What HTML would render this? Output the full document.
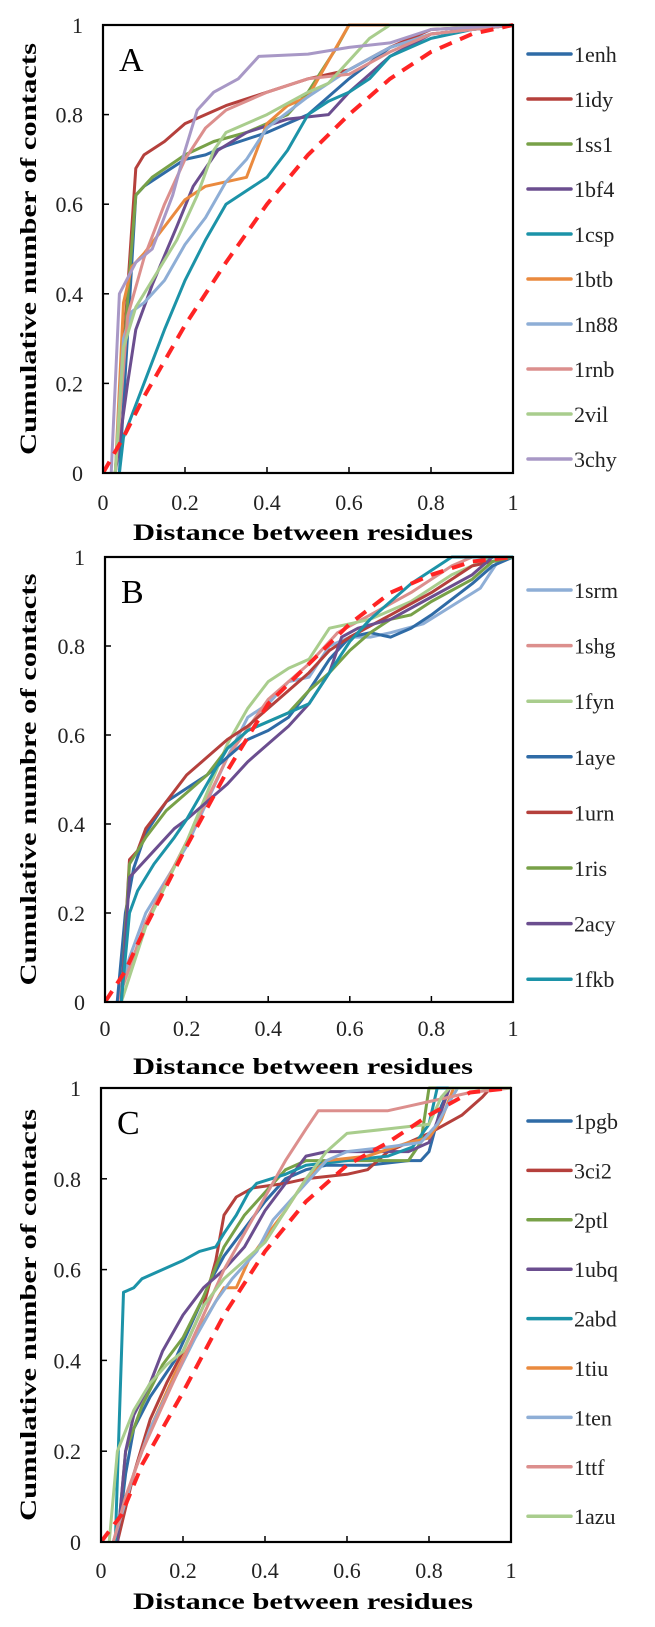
<!DOCTYPE html>
<html><head><meta charset="utf-8"><style>
html,body{margin:0;padding:0;background:#fff;}
svg{display:block;}
</style></head><body>
<svg id="fig" width="655" height="1627" viewBox="0 0 655 1627" xmlns="http://www.w3.org/2000/svg"></svg>
<script>
const xTicks = [0, 0.2, 0.4, 0.6, 0.8, 1];
const yTicks = [0, 0.2, 0.4, 0.6, 0.8, 1];
const tickLabels = ["0", "0.2", "0.4", "0.6", "0.8", "1"];

const namesA = ["1enh","1idy","1ss1","1bf4","1csp","1btb","1n88","1rnb","2vil","3chy"];
const namesB = ["1srm","1shg","1fyn","1aye","1urn","1ris","2acy","1fkb"];
const namesC = ["1pgb","3ci2","2ptl","1ubq","2abd","1tiu","1ten","1ttf","1azu"];

const refA = [[0,0],[0.05,0.08],[0.1,0.17],[0.2,0.33],[0.3,0.47],[0.4,0.6],[0.5,0.71],[0.6,0.8],[0.7,0.88],[0.8,0.94],[0.9,0.98],[1,1]];
const refB = [[0,0],[0.05,0.07],[0.1,0.17],[0.2,0.35],[0.3,0.52],[0.4,0.67],[0.5,0.76],[0.6,0.85],[0.7,0.92],[0.8,0.96],[0.9,0.99],[1,1]];
const refC = [[0,0],[0.05,0.06],[0.1,0.17],[0.2,0.33],[0.3,0.5],[0.4,0.64],[0.5,0.75],[0.6,0.83],[0.7,0.88],[0.8,0.94],[0.9,0.99],[1,1]];

const seriesA = [
 [[0.04,0],[0.08,0.62],[0.1,0.64],[0.15,0.67],[0.2,0.7],[0.25,0.71],[0.3,0.73],[0.4,0.76],[0.5,0.8],[0.6,0.88],[0.7,0.95],[0.8,0.98],[1,1]],
 [[0.03,0],[0.08,0.68],[0.1,0.71],[0.15,0.74],[0.2,0.78],[0.3,0.82],[0.4,0.85],[0.5,0.88],[0.6,0.9],[0.7,0.95],[0.8,0.99],[1,1]],
 [[0.03,0],[0.065,0.45],[0.08,0.62],[0.12,0.66],[0.2,0.71],[0.27,0.74],[0.35,0.76],[0.45,0.8],[0.5,0.85],[0.57,0.95],[0.6,1],[1,1]],
 [[0.03,0],[0.06,0.2],[0.08,0.32],[0.12,0.42],[0.18,0.55],[0.22,0.64],[0.28,0.72],[0.35,0.76],[0.45,0.79],[0.55,0.8],[0.6,0.85],[0.7,0.93],[0.8,0.98],[1,1]],
 [[0.04,0],[0.05,0.08],[0.1,0.2],[0.15,0.32],[0.2,0.43],[0.25,0.52],[0.3,0.6],[0.35,0.63],[0.4,0.66],[0.45,0.72],[0.5,0.8],[0.55,0.83],[0.6,0.85],[0.65,0.88],[0.7,0.93],[0.8,0.97],[0.9,0.99],[1,1]],
 [[0.03,0],[0.05,0.38],[0.07,0.46],[0.1,0.49],[0.15,0.55],[0.2,0.61],[0.25,0.64],[0.3,0.65],[0.35,0.66],[0.4,0.78],[0.45,0.82],[0.5,0.84],[0.55,0.92],[0.6,1],[1,1]],
 [[0.03,0],[0.05,0.3],[0.07,0.36],[0.1,0.38],[0.15,0.43],[0.2,0.51],[0.25,0.57],[0.3,0.65],[0.35,0.7],[0.4,0.77],[0.5,0.84],[0.6,0.9],[0.7,0.95],[0.8,0.98],[1,1]],
 [[0.03,0],[0.06,0.35],[0.1,0.48],[0.15,0.6],[0.2,0.7],[0.25,0.77],[0.3,0.81],[0.4,0.85],[0.5,0.88],[0.6,0.89],[0.7,0.94],[0.8,0.98],[1,1]],
 [[0.03,0],[0.05,0.28],[0.08,0.37],[0.12,0.43],[0.18,0.52],[0.23,0.62],[0.27,0.72],[0.3,0.76],[0.4,0.8],[0.5,0.85],[0.55,0.87],[0.6,0.92],[0.65,0.97],[0.7,1],[1,1]],
 [[0.02,0],[0.04,0.4],[0.08,0.47],[0.12,0.5],[0.17,0.62],[0.2,0.72],[0.23,0.81],[0.27,0.85],[0.33,0.88],[0.38,0.93],[0.5,0.935],[0.6,0.95],[0.7,0.96],[0.8,0.99],[1,1]]
];
const seriesB = [
 [[0.03,0],[0.06,0.1],[0.1,0.2],[0.2,0.35],[0.3,0.55],[0.35,0.64],[0.4,0.67],[0.45,0.72],[0.5,0.73],[0.55,0.8],[0.6,0.82],[0.65,0.82],[0.7,0.83],[0.78,0.85],[0.85,0.89],[0.92,0.93],[0.97,1],[1,1]],
 [[0.03,0],[0.1,0.18],[0.2,0.36],[0.3,0.55],[0.4,0.68],[0.5,0.76],[0.57,0.83],[0.65,0.87],[0.75,0.92],[0.85,0.98],[0.9,1],[1,1]],
 [[0.04,0],[0.1,0.17],[0.2,0.36],[0.3,0.58],[0.35,0.66],[0.4,0.72],[0.45,0.75],[0.5,0.77],[0.55,0.84],[0.6,0.85],[0.65,0.86],[0.75,0.9],[0.85,0.96],[0.95,1],[1,1]],
 [[0.03,0],[0.05,0.2],[0.07,0.3],[0.1,0.38],[0.15,0.45],[0.2,0.48],[0.25,0.51],[0.3,0.55],[0.35,0.59],[0.4,0.61],[0.45,0.64],[0.5,0.7],[0.55,0.77],[0.6,0.82],[0.65,0.83],[0.7,0.82],[0.75,0.84],[0.8,0.87],[0.9,0.94],[0.95,0.98],[1,1]],
 [[0.04,0],[0.06,0.32],[0.08,0.34],[0.1,0.39],[0.15,0.45],[0.2,0.51],[0.25,0.55],[0.3,0.59],[0.35,0.62],[0.4,0.66],[0.45,0.7],[0.5,0.74],[0.55,0.79],[0.6,0.82],[0.7,0.87],[0.8,0.92],[0.85,0.95],[0.9,0.98],[1,1]],
 [[0.04,0],[0.06,0.31],[0.1,0.37],[0.15,0.43],[0.2,0.47],[0.25,0.51],[0.3,0.57],[0.35,0.61],[0.4,0.63],[0.45,0.65],[0.5,0.7],[0.55,0.74],[0.6,0.79],[0.65,0.83],[0.7,0.86],[0.75,0.87],[0.8,0.9],[0.9,0.95],[0.95,0.99],[1,1]],
 [[0.04,0],[0.06,0.28],[0.08,0.3],[0.12,0.34],[0.17,0.39],[0.2,0.41],[0.25,0.45],[0.3,0.49],[0.35,0.54],[0.4,0.58],[0.45,0.62],[0.5,0.67],[0.55,0.74],[0.58,0.82],[0.62,0.84],[0.7,0.86],[0.8,0.91],[0.9,0.96],[0.95,1],[1,1]],
 [[0.04,0],[0.06,0.2],[0.08,0.25],[0.12,0.31],[0.17,0.37],[0.2,0.41],[0.25,0.49],[0.3,0.57],[0.35,0.61],[0.4,0.63],[0.45,0.65],[0.5,0.67],[0.55,0.74],[0.6,0.81],[0.65,0.86],[0.7,0.9],[0.75,0.94],[0.8,0.97],[0.85,1],[1,1]]
];
const seriesC = [
 [[0.04,0],[0.06,0.15],[0.08,0.25],[0.12,0.32],[0.18,0.4],[0.22,0.48],[0.27,0.58],[0.3,0.63],[0.35,0.69],[0.4,0.75],[0.45,0.8],[0.5,0.82],[0.55,0.83],[0.65,0.83],[0.75,0.84],[0.78,0.84],[0.8,0.86],[0.83,0.96],[0.85,1],[1,1]],
 [[0.04,0],[0.08,0.15],[0.12,0.27],[0.16,0.35],[0.2,0.42],[0.25,0.52],[0.28,0.62],[0.3,0.72],[0.33,0.76],[0.37,0.78],[0.45,0.79],[0.5,0.8],[0.6,0.81],[0.65,0.82],[0.7,0.86],[0.8,0.9],[0.88,0.94],[0.93,0.98],[0.95,1],[1,1]],
 [[0.04,0],[0.06,0.2],[0.1,0.3],[0.15,0.39],[0.2,0.45],[0.25,0.54],[0.3,0.65],[0.35,0.72],[0.4,0.77],[0.45,0.82],[0.5,0.84],[0.6,0.84],[0.7,0.84],[0.75,0.84],[0.78,0.88],[0.8,1],[1,1]],
 [[0.04,0],[0.06,0.2],[0.08,0.28],[0.12,0.35],[0.15,0.42],[0.2,0.5],[0.25,0.56],[0.3,0.6],[0.35,0.65],[0.4,0.73],[0.45,0.79],[0.5,0.85],[0.55,0.86],[0.65,0.86],[0.75,0.86],[0.8,0.88],[0.83,0.95],[0.85,1],[1,1]],
 [[0.035,0],[0.055,0.55],[0.08,0.56],[0.1,0.58],[0.15,0.6],[0.2,0.62],[0.24,0.64],[0.28,0.65],[0.3,0.68],[0.33,0.72],[0.36,0.77],[0.38,0.79],[0.45,0.81],[0.5,0.83],[0.6,0.84],[0.7,0.85],[0.76,0.87],[0.8,0.92],[0.82,1],[1,1]],
 [[0.03,0],[0.08,0.15],[0.12,0.25],[0.18,0.37],[0.22,0.44],[0.26,0.5],[0.3,0.56],[0.33,0.56],[0.36,0.62],[0.4,0.67],[0.45,0.73],[0.5,0.8],[0.55,0.84],[0.65,0.85],[0.75,0.88],[0.8,0.89],[0.83,0.93],[0.86,1],[1,1]],
 [[0.03,0],[0.08,0.15],[0.12,0.25],[0.18,0.36],[0.23,0.45],[0.28,0.53],[0.32,0.58],[0.38,0.64],[0.42,0.71],[0.48,0.77],[0.55,0.84],[0.6,0.86],[0.7,0.87],[0.78,0.88],[0.82,0.92],[0.85,0.97],[0.87,1],[1,1]],
 [[0.03,0],[0.06,0.1],[0.1,0.2],[0.15,0.3],[0.2,0.4],[0.25,0.5],[0.3,0.6],[0.35,0.68],[0.4,0.76],[0.45,0.84],[0.5,0.91],[0.53,0.95],[0.6,0.95],[0.7,0.95],[0.75,0.96],[0.8,0.97],[0.85,0.98],[0.9,0.99],[1,1]],
 [[0.02,0],[0.03,0.1],[0.04,0.2],[0.08,0.29],[0.12,0.35],[0.16,0.39],[0.2,0.42],[0.25,0.52],[0.3,0.58],[0.35,0.62],[0.4,0.66],[0.45,0.73],[0.5,0.8],[0.55,0.86],[0.6,0.9],[0.7,0.91],[0.8,0.92],[0.83,0.98],[0.85,1],[1,1]]
];

const C = {blue:"#2f6ba6",red:"#b5403c",green:"#78a148",purple:"#6b4e8f",teal:"#1c93a8",orange:"#ea8a3e",lblue:"#8eaed6",pink:"#dc8f8d",lgreen:"#a9cd8d",lav:"#a898c6"};
const colorsA = [C.blue,C.red,C.green,C.purple,C.teal,C.orange,C.lblue,C.pink,C.lgreen,C.lav];
const colorsB = [C.lblue,C.pink,C.lgreen,C.blue,C.red,C.green,C.purple,C.teal];
const colorsC = [C.blue,C.red,C.green,C.purple,C.teal,C.orange,C.lblue,C.pink,C.lgreen];

const NS = "http://www.w3.org/2000/svg";
const svg = document.getElementById("fig");
function mk(tag, attrs, parent){
  const e = document.createElementNS(NS, tag);
  for (const k in attrs) e.setAttribute(k, attrs[k]);
  (parent||svg).appendChild(e);
  return e;
}

const panels = [
 {id:"a", letter:"A", top:25, bottom:473, left:103, right:513, tickY:510, titleY:540, ytitle:"Cumulative number of contacts", names:namesA, series:seriesA, colors:colorsA, ref:refA, legY0:54, legDy:45},
 {id:"b", letter:"B", top:557, bottom:1002, left:105, right:513, tickY:1036, titleY:1074, ytitle:"Cumulative numbre of contacts", names:namesB, series:seriesB, colors:colorsB, ref:refB, legY0:590, legDy:55.6},
 {id:"c", letter:"C", top:1088, bottom:1542, left:101, right:511, tickY:1578, titleY:1609, ytitle:"Cumulative number of contacts", names:namesC, series:seriesC, colors:colorsC, ref:refC, legY0:1121, legDy:49.4}
];

panels.forEach(p => {
  const g = mk("g", {});
  
  
  const sx = v => p.left + v*(p.right-p.left);
  const sy = v => p.bottom - v*(p.bottom-p.top);
  const clipId = "clip-"+p.id;
  const cp = mk("clipPath", {id:clipId}, g);
  mk("rect", {x:p.left, y:p.top-3, width:p.right-p.left+2, height:p.bottom-p.top+4}, cp);

  const lines = mk("g", {"clip-path":"url(#"+clipId+")"}, g);
  p.series.forEach((s,i) => {
    const d = s.map((pt,j)=>(j?"L":"M")+sx(pt[0]).toFixed(1)+","+sy(pt[1]).toFixed(1)).join("");
    const path = mk("path", {d:d, fill:"none", stroke:p.colors[i], "stroke-width":3, "stroke-linejoin":"round"}, lines);
    
    
  });
  const rd = p.ref.map((pt,j)=>(j?"L":"M")+sx(pt[0]).toFixed(1)+","+sy(pt[1]).toFixed(1)).join("");
  const refPath = mk("path", {d:rd, fill:"none", stroke:"#ff2424", "stroke-width":4, "stroke-dasharray":"13 9"}, lines);
  
  

  const box = mk("rect", {x:p.left, y:p.top, width:p.right-p.left, height:p.bottom-p.top, fill:"none", stroke:"#000", "stroke-width":2.2}, g);
  
  

  xTicks.forEach((t,i) => {
    mk("line", {x1:sx(t), x2:sx(t), y1:p.bottom, y2:p.bottom-6, stroke:"#000", "stroke-width":1.5}, g);
    const tl = mk("text", {x:sx(t), y:p.tickY, "text-anchor":"middle", "font-family":"Liberation Serif, serif", "font-size":22, fill:"#222"}, g);
    tl.textContent = tickLabels[i];
    
    
  });
  yTicks.forEach((t,i) => {
    mk("line", {x1:p.left, x2:p.left+6, y1:sy(t), y2:sy(t), stroke:"#000", "stroke-width":1.5}, g);
    const tl = mk("text", {x:p.left-20, y:sy(t)+8, "text-anchor":"end", "font-family":"Liberation Serif, serif", "font-size":22, fill:"#222"}, g);
    tl.textContent = tickLabels[i];
    
    
  });

  const letter = mk("text", {x:p.left+16, y:p.top+46, "font-family":"Liberation Serif, serif", "font-size":34, fill:"#000"}, g);
  letter.textContent = p.letter;
  
  

  const xt = mk("text", {x:303, y:p.titleY, "text-anchor":"middle", "font-family":"Liberation Serif, serif", "font-weight":"bold", "font-size":23, textLength:340, lengthAdjust:"spacingAndGlyphs", fill:"#000"}, g);
  xt.textContent = "Distance between residues";
  
  

  const cy = (p.top+p.bottom)/2;
  const yt = mk("text", {x:0, y:0, transform:"translate(36,"+cy+") rotate(-90)", "text-anchor":"middle", "font-family":"Liberation Serif, serif", "font-weight":"bold", "font-size":23, textLength:412, lengthAdjust:"spacingAndGlyphs", fill:"#000"}, g);
  yt.textContent = p.ytitle;
  
  

  const lg = mk("g", {}, g);
  
  
  p.names.forEach((n,i) => {
    const y = p.legY0 + i*p.legDy;
    const e = mk("g", {}, lg);
    
    
    mk("line", {x1:528, x2:571, y1:y, y2:y, stroke:p.colors[i], "stroke-width":3.5, "stroke-linecap":"round"}, e);
    const t = mk("text", {x:574, y:y+8, "font-family":"Liberation Serif, serif", "font-size":22, fill:"#222"}, e);
    t.textContent = n;
  });
});
</script>
</body></html>
